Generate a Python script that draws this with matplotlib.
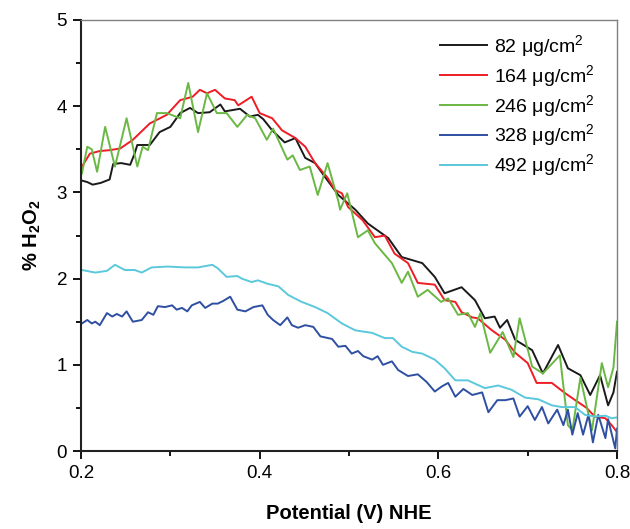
import matplotlib.pyplot as plt
from matplotlib.ticker import MultipleLocator, FormatStrFormatter

plt.rcParams['font.family'] = ['Liberation Sans', 'DejaVu Sans']
plt.rcParams['mathtext.fontset'] = 'custom'
plt.rcParams['mathtext.rm'] = 'Liberation Sans'
plt.rcParams['mathtext.it'] = 'Liberation Sans:italic'
plt.rcParams['mathtext.bf'] = 'Liberation Sans:bold'

labels = ['82 μg/cm$^2$', '164 μg/cm$^2$', '246 μg/cm$^2$',
          '328 μg/cm$^2$', '492 μg/cm$^2$']
colors = ['#1a1a1a', '#ee1c24', '#6ab843', '#2e4fa2', '#5bc8dc']

# 82 ug/cm2
x_82 = [0.200, 0.207, 0.213, 0.222, 0.232, 0.236, 0.245, 0.255, 0.260, 0.263,
        0.277, 0.288, 0.300, 0.311, 0.322, 0.331, 0.344, 0.356, 0.361, 0.378,
        0.389, 0.398, 0.404, 0.414, 0.428, 0.440, 0.451, 0.462, 0.473, 0.488,
        0.507, 0.521, 0.544, 0.559, 0.582, 0.596, 0.607, 0.626, 0.641, 0.652,
        0.663, 0.669, 0.677, 0.686, 0.705, 0.717, 0.734, 0.745, 0.759, 0.770,
        0.781, 0.790, 0.796, 0.800]
y_82 = [3.14, 3.12, 3.09, 3.11, 3.15, 3.33, 3.34, 3.32, 3.45, 3.55,
        3.55, 3.70, 3.76, 3.92, 3.98, 3.92, 3.93, 4.02, 3.94, 3.97,
        3.88, 3.90, 3.85, 3.72, 3.58, 3.63, 3.40, 3.34, 3.18, 2.97,
        2.80, 2.64, 2.47, 2.25, 2.18, 2.02, 1.83, 1.90, 1.75, 1.54,
        1.56, 1.43, 1.52, 1.29, 1.17, 0.90, 1.23, 0.96, 0.88, 0.65,
        0.88, 0.53, 0.68, 0.92]

# 164 ug/cm2
x_164 = [0.201, 0.210, 0.221, 0.232, 0.244, 0.258, 0.277, 0.296, 0.311, 0.325,
         0.333, 0.341, 0.350, 0.361, 0.372, 0.376, 0.391, 0.400, 0.414, 0.425,
         0.440, 0.451, 0.462, 0.476, 0.484, 0.492, 0.499, 0.515, 0.529, 0.540,
         0.551, 0.566, 0.577, 0.596, 0.607, 0.619, 0.626, 0.638, 0.644, 0.660,
         0.675, 0.686, 0.700, 0.710, 0.727, 0.742, 0.756, 0.766, 0.775, 0.787,
         0.794, 0.800]
y_164 = [3.30, 3.45, 3.48, 3.49, 3.51, 3.61, 3.80, 3.90, 4.07, 4.11,
         4.19, 4.15, 4.19, 4.09, 4.07, 4.01, 4.11, 3.92, 3.86, 3.72,
         3.63, 3.53, 3.34, 3.17, 3.03, 2.99, 2.83, 2.68, 2.48, 2.50,
         2.29, 2.18, 1.95, 1.93, 1.75, 1.73, 1.61, 1.55, 1.54, 1.40,
         1.29, 1.14, 1.02, 0.79, 0.79, 0.67, 0.57, 0.50, 0.40, 0.38,
         0.30, 0.22]

# 246 ug/cm2
x_246 = [0.201, 0.207, 0.212, 0.218, 0.227, 0.238, 0.251, 0.263, 0.269, 0.275,
         0.285, 0.296, 0.311, 0.320, 0.331, 0.341, 0.352, 0.363, 0.375, 0.386,
         0.395, 0.408, 0.415, 0.431, 0.437, 0.445, 0.456, 0.465, 0.476, 0.488,
         0.490, 0.498, 0.510, 0.521, 0.529, 0.548, 0.559, 0.566, 0.577, 0.588,
         0.603, 0.611, 0.622, 0.633, 0.641, 0.647, 0.658, 0.672, 0.684, 0.691,
         0.705, 0.717, 0.736, 0.745, 0.750, 0.759, 0.772, 0.783, 0.790, 0.796,
         0.800]
y_246 = [3.22, 3.53, 3.50, 3.24, 3.76, 3.30, 3.86, 3.30, 3.53, 3.49,
         3.92, 3.92, 3.86, 4.27, 3.70, 4.15, 3.92, 3.92, 3.76, 3.90,
         3.86, 3.61, 3.74, 3.38, 3.43, 3.26, 3.30, 2.97, 3.34, 2.90,
         2.80, 2.99, 2.48, 2.56, 2.41, 2.18, 1.95, 2.08, 1.79, 1.87,
         1.73, 1.77, 1.58, 1.60, 1.44, 1.60, 1.14, 1.38, 1.09, 1.54,
         0.98, 0.90, 1.11, 0.30, 0.24, 0.85, 0.24, 1.02, 0.74, 0.97,
         1.50]

# 328 ug/cm2
x_328 = [0.201, 0.207, 0.212, 0.216, 0.221, 0.229, 0.235, 0.240, 0.246, 0.251,
         0.258, 0.268, 0.275, 0.281, 0.286, 0.294, 0.302, 0.307, 0.313, 0.319,
         0.324, 0.333, 0.339, 0.347, 0.353, 0.359, 0.367, 0.375, 0.384, 0.393,
         0.403, 0.409, 0.415, 0.423, 0.431, 0.436, 0.443, 0.451, 0.460, 0.468,
         0.481, 0.488, 0.496, 0.503, 0.510, 0.516, 0.526, 0.532, 0.538, 0.548,
         0.555, 0.566, 0.577, 0.587, 0.596, 0.604, 0.611, 0.619, 0.628, 0.638,
         0.649, 0.656, 0.666, 0.675, 0.684, 0.691, 0.700, 0.708, 0.716, 0.723,
         0.733, 0.740, 0.745, 0.750, 0.756, 0.762, 0.768, 0.773, 0.779, 0.787,
         0.790, 0.798, 0.800]
y_328 = [1.48, 1.52, 1.48, 1.50, 1.46, 1.60, 1.56, 1.59, 1.56, 1.62,
         1.50, 1.52, 1.61, 1.58, 1.68, 1.67, 1.69, 1.64, 1.66, 1.62,
         1.69, 1.73, 1.66, 1.71, 1.71, 1.74, 1.79, 1.64, 1.62, 1.67,
         1.69, 1.58, 1.52, 1.46, 1.55, 1.46, 1.43, 1.46, 1.44, 1.33,
         1.30, 1.21, 1.22, 1.13, 1.16, 1.10, 1.06, 1.10, 1.00, 1.04,
         0.94, 0.87, 0.89, 0.80, 0.69, 0.75, 0.79, 0.63, 0.72, 0.65,
         0.68, 0.45, 0.59, 0.59, 0.61, 0.40, 0.52, 0.36, 0.51, 0.32,
         0.48, 0.30, 0.48, 0.19, 0.44, 0.19, 0.42, 0.10, 0.42, 0.15,
         0.37, 0.03, 0.26]

# 492 ug/cm2
x_492 = [0.201, 0.216, 0.229, 0.238, 0.249, 0.260, 0.268, 0.279, 0.297, 0.316,
         0.331, 0.347, 0.353, 0.363, 0.375, 0.380, 0.391, 0.398, 0.409, 0.421,
         0.432, 0.447, 0.462, 0.476, 0.492, 0.507, 0.526, 0.540, 0.549, 0.559,
         0.571, 0.582, 0.596, 0.607, 0.619, 0.633, 0.652, 0.667, 0.682, 0.697,
         0.712, 0.727, 0.738, 0.753, 0.764, 0.775, 0.787, 0.794, 0.800]
y_492 = [2.10, 2.07, 2.09, 2.16, 2.10, 2.10, 2.07, 2.13, 2.14, 2.13,
         2.13, 2.16, 2.12, 2.02, 2.03, 2.00, 1.96, 1.98, 1.94, 1.91,
         1.81, 1.73, 1.67, 1.60, 1.48, 1.40, 1.37, 1.31, 1.31, 1.21,
         1.15, 1.13, 1.06, 0.96, 0.82, 0.82, 0.73, 0.76, 0.71, 0.62,
         0.60, 0.53, 0.51, 0.51, 0.42, 0.40, 0.41, 0.38, 0.39]

xs = [x_82, x_164, x_246, x_328, x_492]
ys = [y_82, y_164, y_246, y_328, y_492]

fig = plt.figure(figsize=(6.3, 5.29), dpi=100)
ax = fig.add_axes([0.1286, 0.1474, 0.8508, 0.8148])

for x, y, c, lab in zip(xs, ys, colors, labels):
    ax.plot(x, y, color=c, lw=1.4, label=lab)

ax.set_xlim(0.2, 0.8)
ax.set_ylim(0, 5)
ax.xaxis.set_major_locator(MultipleLocator(0.2))
ax.xaxis.set_minor_locator(MultipleLocator(0.1))
ax.yaxis.set_major_locator(MultipleLocator(1))
ax.yaxis.set_minor_locator(MultipleLocator(0.5))
ax.xaxis.set_major_formatter(FormatStrFormatter('%.1f'))

ax.tick_params(which='major', direction='out', length=6, width=1.3, labelsize=13.5, pad=4)
ax.tick_params(which='minor', direction='out', length=3.5, width=1.3)
for side in ['left', 'bottom']:
    ax.spines[side].set_linewidth(1.5)
    ax.spines[side].set_color('#222222')
for side in ['top', 'right']:
    ax.spines[side].set_linewidth(1.0)
    ax.spines[side].set_color('#808080')

ax.set_xlabel('Potential (V) NHE', fontsize=14.5, fontweight='bold', labelpad=16)
ax.set_ylabel(r'% H$_\mathbf{2}$O$_\mathbf{2}$', fontsize=14.5, fontweight='bold', labelpad=10)

ax.legend(loc='upper right', frameon=False, fontsize=14, handlelength=2.4,
          handletextpad=0.35, labelspacing=0.2, bbox_to_anchor=(0.99, 1.01))

fig.savefig('out.png', dpi=100)
